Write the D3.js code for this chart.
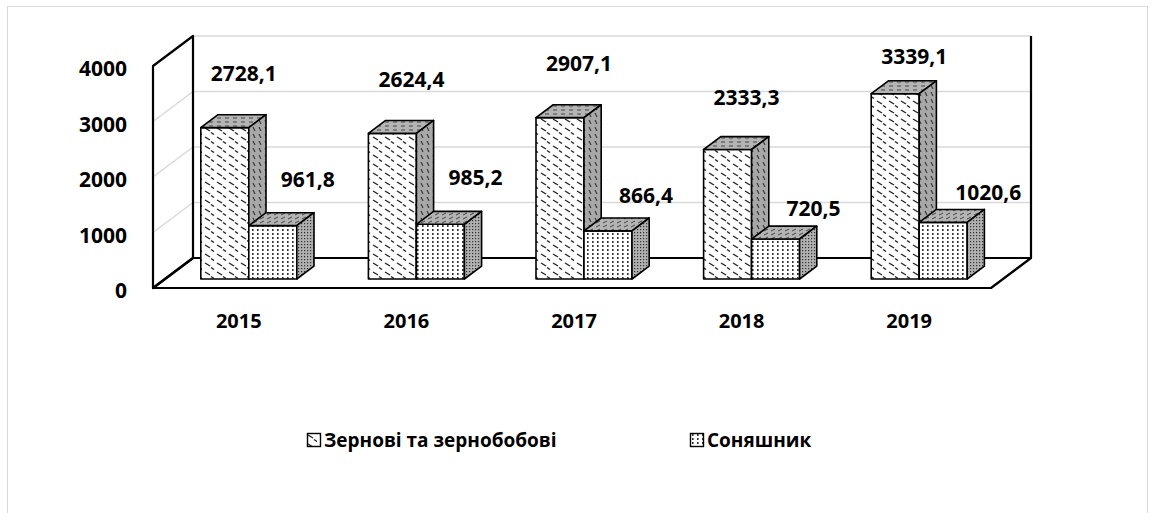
<!DOCTYPE html>
<html>
<head>
<meta charset="utf-8">
<script src="https://cdn.jsdelivr.net/npm/d3@7"></script>
<style>
  body { margin: 0; background: #fff; }
  text { font-family: "Open Sans", sans-serif; font-weight: bold; fill: #000; }
</style>
</head>
<body>
<div id="wrapper"></div>
<script>
// data
const years = ['2015', '2016', '2017', '2018', '2019'];
const grain = [2728.1, 2624.4, 2907.1, 2333.3, 3339.1];
const sunflower = [961.8, 985.2, 866.4, 720.5, 1020.6];
const seriesNames = ['Зернові та зернобобові', 'Соняшник'];
const yTicks = [0, 1000, 2000, 3000, 4000];

// label nudges (px) relative to bar top / category centre, like the excel file
const grainLabelDx = [7, 7, 7, 7, 7];
const grainLabelDy = [-55, -54, -55, -53, -38];
const sunLabelDx = [71, 71, 74, 74, 81];
const sunLabelDy = [-47, -47, -36, -31, -30];

const W = 1155, H = 513;
const FY = 288;       // floor front line
const DX = 40, DY = 30; // depth offset of the walls
const Z0 = 0.3, Z1 = 0.73;

let svg = d3.select('#wrapper')
    .append('svg')
    .attr('width', W)
    .attr('height', H);

// patterns
let defs = svg.append('defs');

function pattern(id, w, h, bg, draw) {
    let p = defs.append('pattern')
        .attr('id', id)
        .attr('patternUnits', 'userSpaceOnUse')
        .attr('width', w)
        .attr('height', h);
    p.append('rect').attr('width', w).attr('height', h).attr('fill', bg);
    draw(p);
}

pattern('g-front', 12, 9, '#fff', function (p) {
    p.append('path').attr('d', 'M1,2 L6,5').attr('stroke', '#222').attr('stroke-width', 1.4);
    p.append('path').attr('d', 'M7,6.5 L10,8.5').attr('stroke', '#222').attr('stroke-width', 1.4);
});
pattern('g-side', 6, 7, '#a8a8a8', function (p) {
    p.append('path').attr('d', 'M1,1 L3,5').attr('stroke', '#333').attr('stroke-width', 1.1);
});
pattern('g-top', 8, 4, '#b4b4b4', function (p) {
    p.append('path').attr('d', 'M1,2 L5,2').attr('stroke', '#444').attr('stroke-width', 1);
});
pattern('s-front', 5, 4, '#fff', function (p) {
    p.append('rect').attr('x', 2).attr('y', 1).attr('width', 1.6).attr('height', 2).attr('fill', '#333');
});
pattern('s-side', 3, 3, '#b0b0b0', function (p) {
    p.append('rect').attr('x', 1).attr('y', 1).attr('width', 1.2).attr('height', 1.2).attr('fill', '#333');
});
pattern('s-top', 7, 4, '#b4b4b4', function (p) {
    p.append('path').attr('d', 'M1,3 L5,1').attr('stroke', '#444').attr('stroke-width', 1);
});

// outer border
svg.append('rect')
    .attr('x', 7.5).attr('y', 6.5)
    .attr('width', 1140).attr('height', 510)
    .attr('fill', 'none')
    .attr('stroke', '#d9d9d9')
    .attr('stroke-width', 1);

// scales
let x = d3.scaleBand().domain(years).range([153, 991]);
let xs = d3.scaleBand().domain(seriesNames).range([0, x.bandwidth()])
    .paddingInner(0).paddingOuter(0.746);
let y = d3.scaleLinear().domain([0, 4000]).range([0, 222]);

// projection (x on front plane, depth z in 0..1, value v)
function P(px, z, v) {
    return [px + z * DX, FY - z * DY - y(v)];
}

let x0 = x.range()[0], x1 = x.range()[1];

// gridlines back wall
svg.append('g')
    .selectAll('line')
    .data(yTicks.slice(1))
    .enter()
    .append('line')
    .attr('x1', x0 + DX).attr('x2', x1 + DX)
    .attr('y1', function (d) { return P(x0, 1, d)[1] })
    .attr('y2', function (d) { return P(x0, 1, d)[1] })
    .attr('stroke', '#d9d9d9')
    .attr('stroke-width', 1.5);

// gridlines side wall
svg.append('g')
    .selectAll('line')
    .data(yTicks.slice(1, -1))
    .enter()
    .append('line')
    .attr('x1', x0).attr('x2', x0 + DX)
    .attr('y1', function (d) { return P(x0, 0, d)[1] })
    .attr('y2', function (d) { return P(x0, 1, d)[1] })
    .attr('stroke', '#d9d9d9')
    .attr('stroke-width', 1.5);

// walls outline
let maxV = yTicks[yTicks.length - 1];
let wallPts = [P(x0, 0, maxV), P(x0, 1, maxV), P(x0, 1, 0), P(x0, 0, 0)];
let floorPts = [P(x0, 0, 0), P(x0, 1, 0), P(x1, 1, 0), P(x1, 0, 0)];
svg.append('polygon')
    .attr('points', wallPts.join(' '))
    .attr('fill', 'none').attr('stroke', '#000').attr('stroke-width', 2.2)
    .attr('stroke-linejoin', 'round');
svg.append('polygon')
    .attr('points', floorPts.join(' '))
    .attr('fill', 'none').attr('stroke', '#000').attr('stroke-width', 2.2)
    .attr('stroke-linejoin', 'round');
svg.append('line')
    .attr('x1', P(x1, 1, 0)[0]).attr('y1', P(x1, 1, 0)[1])
    .attr('x2', P(x1, 1, maxV)[0]).attr('y2', P(x1, 1, maxV)[1])
    .attr('stroke', '#000').attr('stroke-width', 2.2);

// y axis labels
svg.append('g')
    .selectAll('text')
    .data(yTicks)
    .enter()
    .append('text')
    .attr('x', 127)
    .attr('y', function (d) { return P(x0, 0, d)[1] + 2 })
    .attr('text-anchor', 'end')
    .attr('dominant-baseline', 'central')
    .style('font-size', '21px')
    .text(function (d) { return d });

// bars
let bars = [];
years.forEach(function (yr, i) {
    bars.push({ year: yr, s: 0, v: grain[i], i: i });
    bars.push({ year: yr, s: 1, v: sunflower[i], i: i });
});

let ids = [['g-front', 'g-top', 'g-side'], ['s-front', 's-top', 's-side']];

let bar = svg.append('g')
    .selectAll('g')
    .data(bars)
    .enter()
    .append('g');

function faces(d) {
    let l = x(d.year) + xs(seriesNames[d.s]);
    let r = l + xs.bandwidth();
    return {
        front: [P(l, Z0, d.v), P(r, Z0, d.v), P(r, Z0, 0), P(l, Z0, 0)],
        top: [P(l, Z0, d.v), P(r, Z0, d.v), P(r, Z1, d.v), P(l, Z1, d.v)],
        side: [P(r, Z0, d.v), P(r, Z1, d.v), P(r, Z1, 0), P(r, Z0, 0)]
    };
}

['front', 'top', 'side'].forEach(function (f, k) {
    bar.append('polygon')
        .attr('points', function (d) { return faces(d)[f].join(' ') })
        .attr('fill', function (d) { return 'url(#' + ids[d.s][k] + ')' })
        .attr('stroke', '#000')
        .attr('stroke-width', 1.6)
        .attr('stroke-linejoin', 'round');
});

// value labels
let fmt = function (v) { return d3.format('.1f')(v).replace('.', ',') };
svg.append('g')
    .selectAll('text')
    .data(bars)
    .enter()
    .append('text')
    .attr('x', function (d) {
        let c = x(d.year) + x.bandwidth() / 2;
        return c + (d.s == 0 ? grainLabelDx[d.i] : sunLabelDx[d.i]);
    })
    .attr('y', function (d) {
        return P(0, Z0, d.v)[1] + (d.s == 0 ? grainLabelDy[d.i] : sunLabelDy[d.i]);
    })
    .attr('text-anchor', 'middle')
    .attr('dominant-baseline', 'central')
    .style('font-size', '21px')
    .text(function (d) { return fmt(d.v) });

// category labels
svg.append('g')
    .selectAll('text')
    .data(years)
    .enter()
    .append('text')
    .attr('x', function (d) { return x(d) + x.bandwidth() / 2 + 2 })
    .attr('y', 320)
    .attr('text-anchor', 'middle')
    .attr('dominant-baseline', 'central')
    .style('font-size', '20px')
    .text(function (d) { return d });

// legend
let legX = [307, 690];
let leg = svg.append('g')
    .selectAll('g')
    .data(seriesNames)
    .enter()
    .append('g')
    .attr('transform', function (d, i) { return 'translate(' + legX[i] + ',433)' });
leg.append('rect')
    .attr('x', 0.5).attr('y', 0.5)
    .attr('width', 13).attr('height', 13)
    .attr('fill', function (d, i) { return 'url(#' + ids[i][0] + ')' })
    .attr('stroke', '#000')
    .attr('stroke-width', 1.4);
leg.append('text')
    .attr('x', 17)
    .attr('y', 7)
    .attr('dominant-baseline', 'central')
    .style('font-size', '19px')
    .text(function (d) { return d });
</script>
</body>
</html>
